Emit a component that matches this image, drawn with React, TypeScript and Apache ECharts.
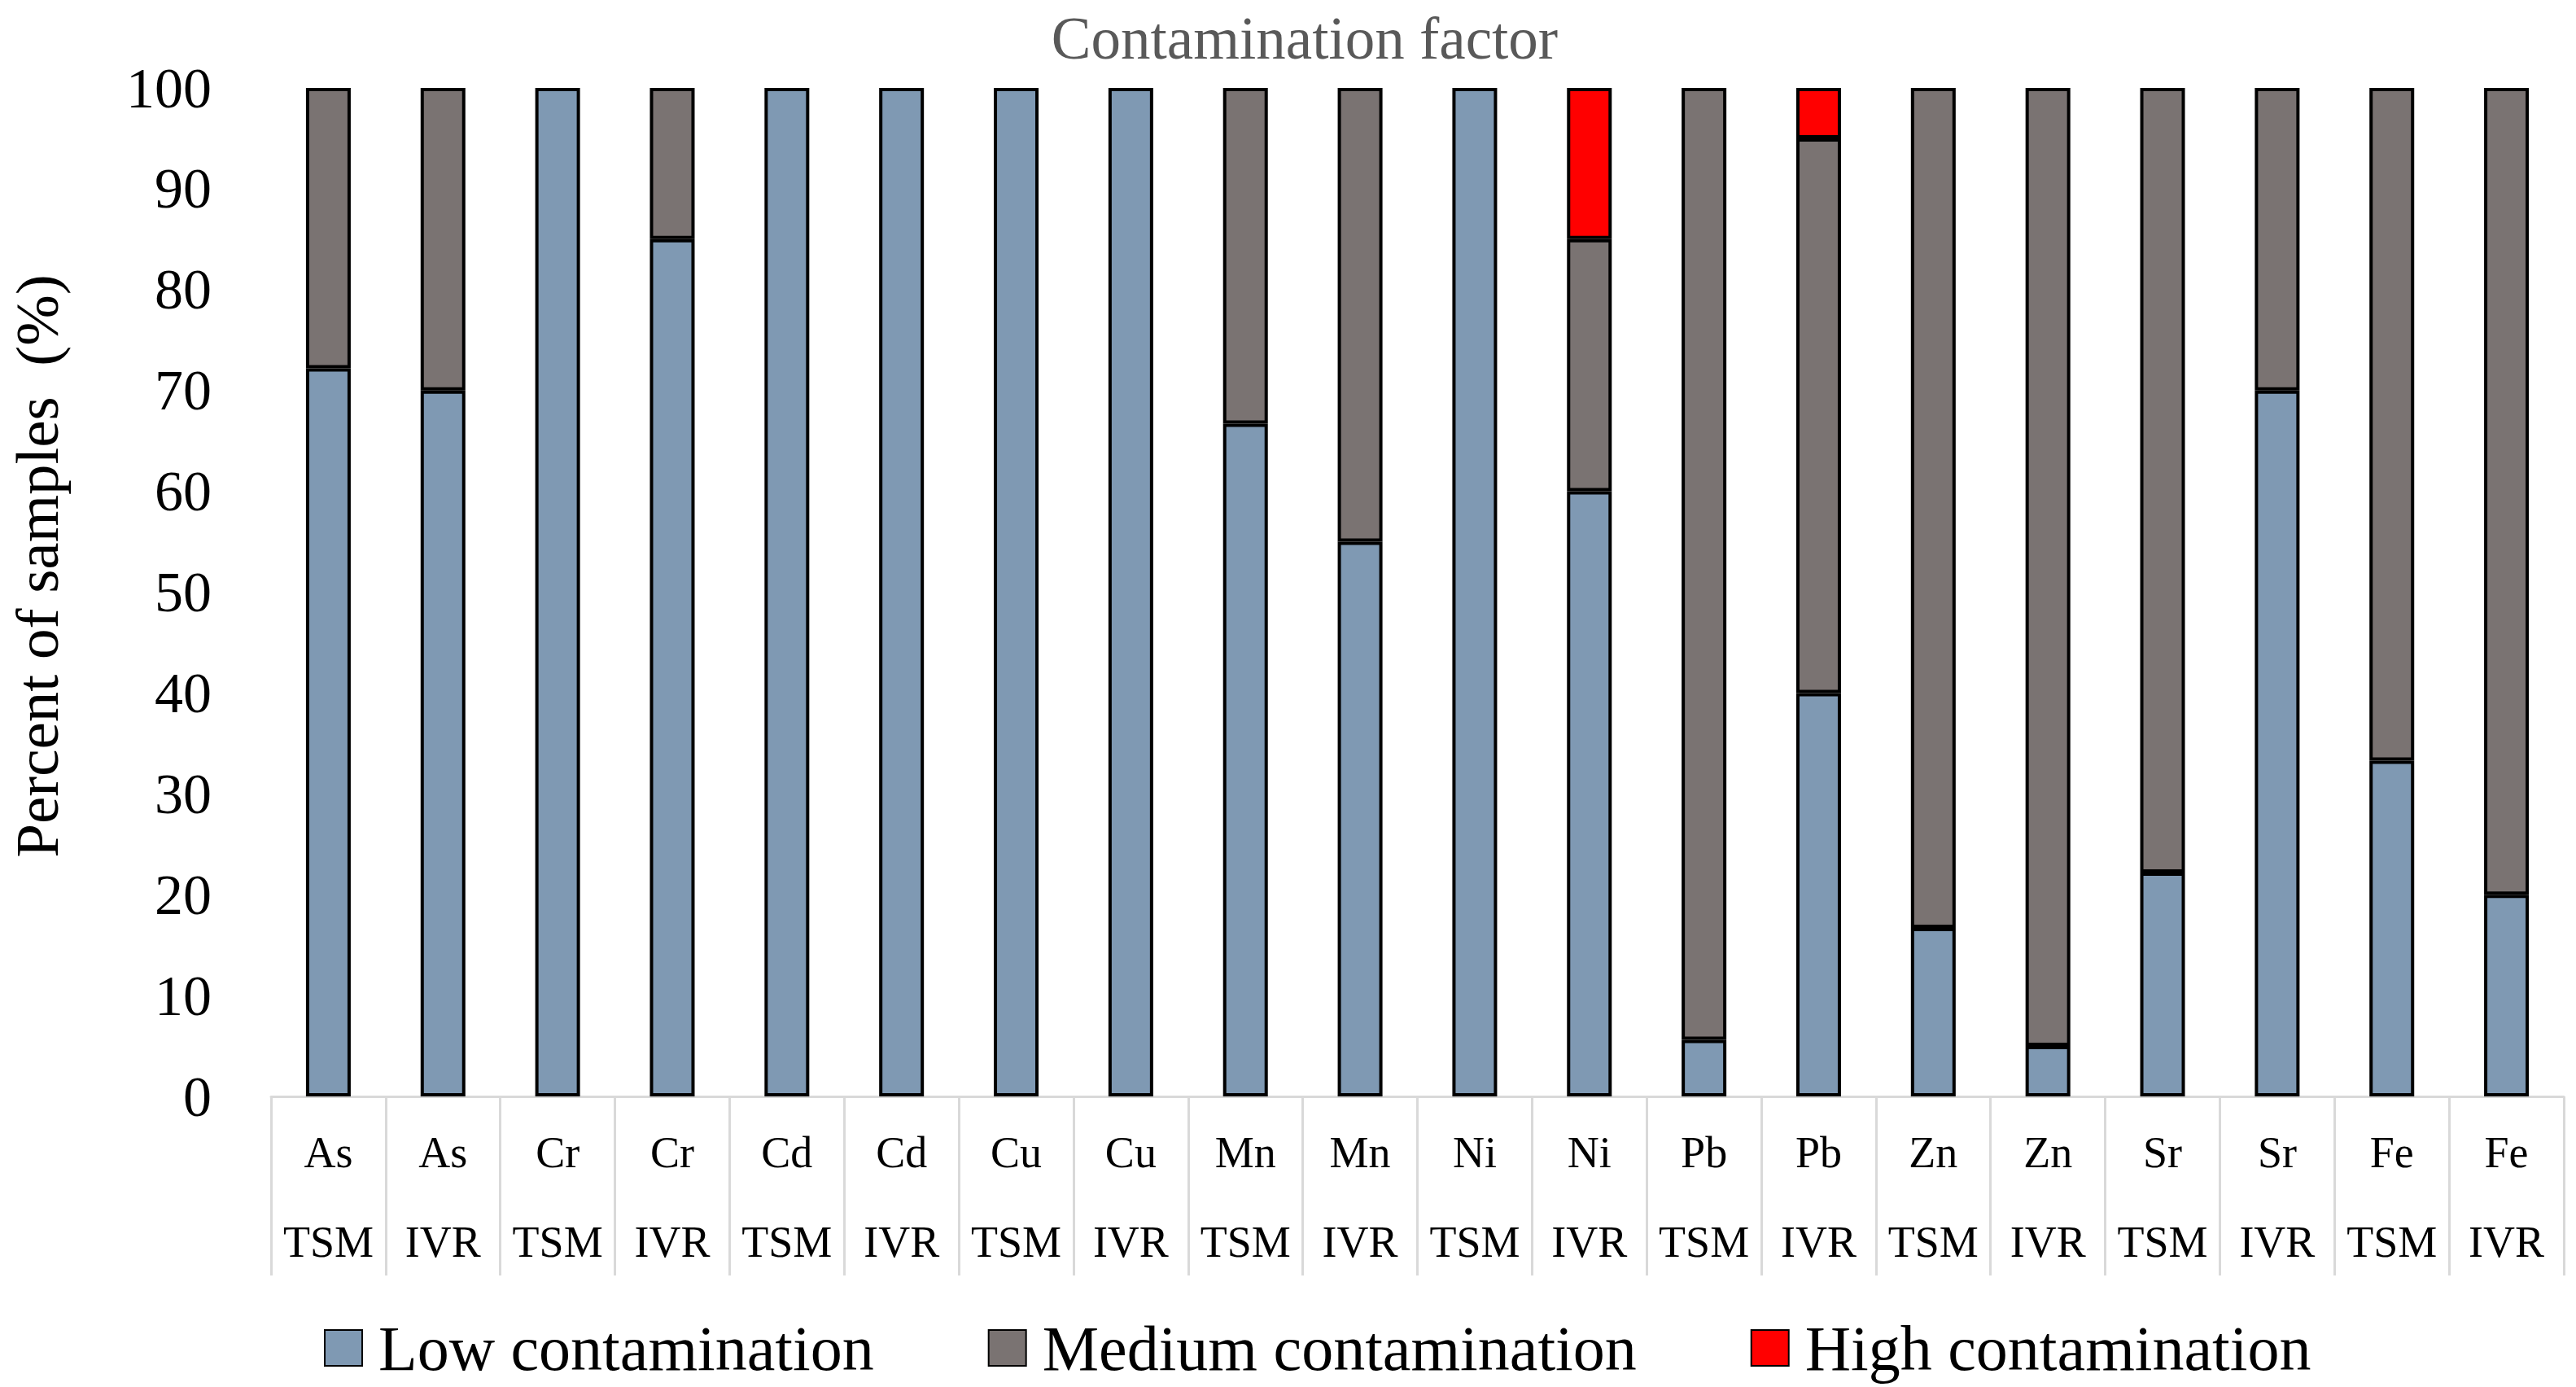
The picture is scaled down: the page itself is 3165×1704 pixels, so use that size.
import React, { useEffect, useRef } from "react";
import * as echarts from "echarts";

const elements = ["As", "As", "Cr", "Cr", "Cd", "Cd", "Cu", "Cu", "Mn", "Mn", "Ni", "Ni", "Pb", "Pb", "Zn", "Zn", "Sr", "Sr", "Fe", "Fe"];
const sites = ["TSM", "IVR", "TSM", "IVR", "TSM", "IVR", "TSM", "IVR", "TSM", "IVR", "TSM", "IVR", "TSM", "IVR", "TSM", "IVR", "TSM", "IVR", "TSM", "IVR"];
const lowValues = [72.2, 70, 100, 85, 100, 100, 100, 100, 66.7, 55, 100, 60, 5.6, 40, 16.7, 5, 22.2, 70, 33.3, 20];
const mediumValues = [27.8, 30, 0, 15, 0, 0, 0, 0, 33.3, 45, 0, 25, 94.4, 55, 83.3, 95, 77.8, 30, 66.7, 80];
const highValues = [0, 0, 0, 0, 0, 0, 0, 0, 0, 0, 0, 15, 0, 5, 0, 0, 0, 0, 0, 0];
const seriesNames = ["Low contamination", "Medium contamination", "High contamination"];
const seriesColors = ["#7f99b3", "#7a7372", "#ff0000"];
const titleText = "Contamination factor";
const yAxisTitle = "Percent of samples  (%)";

const FONT = "'Liberation Serif', 'Times New Roman', serif";

export default function App() {
  const ref = useRef<HTMLDivElement>(null);
  useEffect(() => {
    if (!ref.current) return;
    const chart = echarts.init(ref.current, null, { renderer: "svg" });
    const categories = elements.map((e, i) => e + "\n\n" + sites[i]);
    const toData = (arr: number[]) => arr.map((v) => (v === 0 ? "-" : v));
    const allValues = [lowValues, mediumValues, highValues];
    chart.setOption({
      animation: false,
      backgroundColor: "#ffffff",
      title: {
        text: titleText,
        left: 1598,
        textAlign: "center",
        top: 6,
        textStyle: { fontFamily: FONT, fontSize: 73, fontWeight: "normal", color: "#595959" },
      },
      legend: {
        left: 393,
        top: 1612,
        itemWidth: 46,
        itemHeight: 44,
        itemGap: 140,
        icon: "rect",
        textStyle: { fontFamily: FONT, fontSize: 78, color: "#000000", padding: [0, 0, 0, 15] },
        data: seriesNames,
      },
      grid: { left: 315, right: 15, top: 108, bottom: 357, containLabel: false },
      xAxis: {
        type: "category",
        data: categories,
        axisLine: { show: true, lineStyle: { color: "#d9d9d9", width: 3 } },
        axisTick: { show: true, interval: 0, length: 220, lineStyle: { color: "#d9d9d9", width: 3 } },
        axisLabel: {
          interval: 0,
          margin: 41,
          fontFamily: FONT,
          fontSize: 54,
          lineHeight: 55,
          color: "#000000",
        },
      },
      yAxis: {
        type: "value",
        min: 0,
        max: 100,
        interval: 10,
        name: yAxisTitle,
        nameLocation: "middle",
        nameGap: 250,
        nameTextStyle: { fontFamily: FONT, fontSize: 75, color: "#000000", padding: [0, 0, 0, 64] },
        axisLine: { show: false },
        axisTick: { show: false },
        splitLine: { show: false },
        axisLabel: { margin: 73, fontFamily: FONT, fontSize: 70, color: "#000000" },
      },
      series: seriesNames.map((name, i) => ({
        name,
        type: "bar",
        stack: "total",
        barWidth: 55,
        data: toData(allValues[i]),
        itemStyle: { color: seriesColors[i], borderColor: "#000000", borderWidth: 4 },
      })),
    });
    return () => chart.dispose();
  }, []);
  return <div ref={ref} style={{ position: "absolute", left: 0, top: 0, width: 3165, height: 1704 }} />;
}
